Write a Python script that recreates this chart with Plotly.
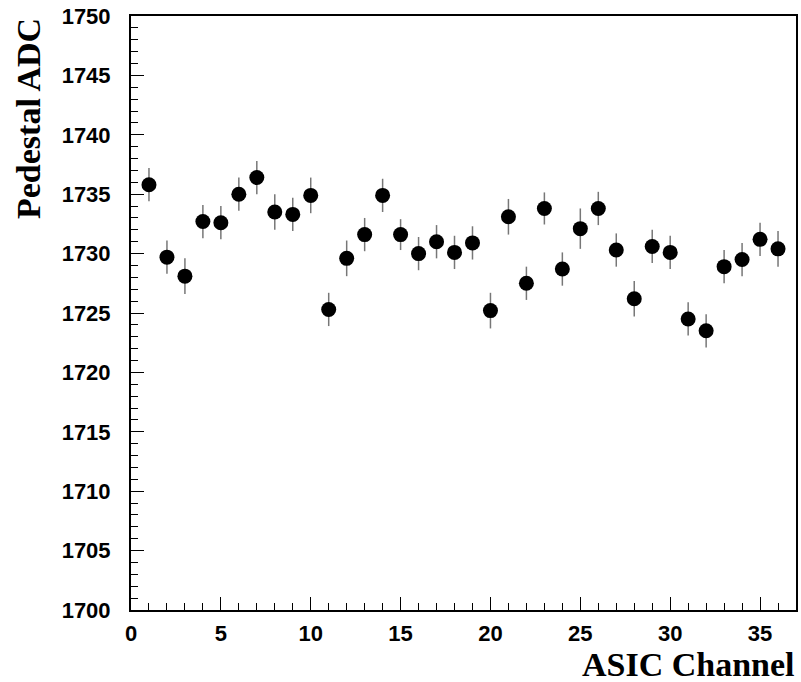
import plotly.graph_objects as go

channels = list(range(1, 37))
pedestal = [1735.8, 1729.7, 1728.1, 1732.7, 1732.6, 1735.0, 1736.4, 1733.5, 1733.3, 1734.9,
            1725.3, 1729.6, 1731.6, 1734.9, 1731.6, 1730.0, 1731.0, 1730.1, 1730.9, 1725.2,
            1733.1, 1727.5, 1733.8, 1728.7, 1732.1, 1733.8, 1730.3, 1726.2, 1730.6, 1730.1,
            1724.5, 1723.5, 1728.9, 1729.5, 1731.2, 1730.4]
errors = [1.4, 1.4, 1.5, 1.4, 1.4, 1.4, 1.4, 1.5, 1.4, 1.5,
          1.4, 1.5, 1.4, 1.4, 1.3, 1.4, 1.4, 1.4, 1.4, 1.5,
          1.5, 1.4, 1.35, 1.4, 1.7, 1.4, 1.4, 1.5, 1.4, 1.4,
          1.4, 1.4, 1.4, 1.4, 1.4, 1.5]

x_ticks = [0, 5, 10, 15, 20, 25, 30, 35]
y_ticks = [1700, 1705, 1710, 1715, 1720, 1725, 1730, 1735, 1740, 1745, 1750]

fig = go.Figure()
fig.add_trace(go.Scatter(
    x=channels, y=pedestal, mode="markers",
    marker=dict(color="black", size=15, symbol="circle"),
    error_y=dict(type="data", array=errors, visible=True, color="#777777", thickness=1.5, width=0),
    showlegend=False,
))

tickfont = dict(family="Liberation Sans, Arial, sans-serif", size=22, color="black", weight="bold")
fig.update_layout(
    width=801, height=682,
    margin=dict(l=131, r=3, t=16, b=72),
    paper_bgcolor="white", plot_bgcolor="white",
    xaxis=dict(range=[0, 37], tickvals=x_ticks, ticks="inside", ticklen=13, tickwidth=1,
               tickcolor="black", showline=True, linecolor="black", linewidth=2, mirror=True,
               showgrid=False, zeroline=False, tickfont=tickfont, ticklabelstandoff=3,
               minor=dict(dtick=1, ticks="inside", ticklen=7, tickcolor="black", showgrid=False)),
    yaxis=dict(range=[1700, 1750], tickvals=y_ticks, ticks="inside", ticklen=13, tickwidth=1,
               tickcolor="black", showline=True, linecolor="black", linewidth=2, mirror=True,
               showgrid=False, zeroline=False, tickfont=tickfont, ticklabelstandoff=14,
               minor=dict(dtick=1, ticks="inside", ticklen=7, tickcolor="black", showgrid=False)),
    annotations=[
        dict(text="<b>ASIC Channel</b>", xref="paper", yref="paper", x=1.0, y=0,
             xanchor="right", yanchor="top", yshift=-35, showarrow=False, borderpad=0,
             font=dict(family="Liberation Serif, Times New Roman, serif", size=34, color="black")),
        dict(text="<b>Pedestal ADC</b>", xref="paper", yref="paper", x=0, y=1.0,
             xanchor="right", yanchor="top", xshift=-82, textangle=-90, showarrow=False,
             font=dict(family="Liberation Serif, Times New Roman, serif", size=34, color="black")),
    ],
)

fig.write_html("out.html")
